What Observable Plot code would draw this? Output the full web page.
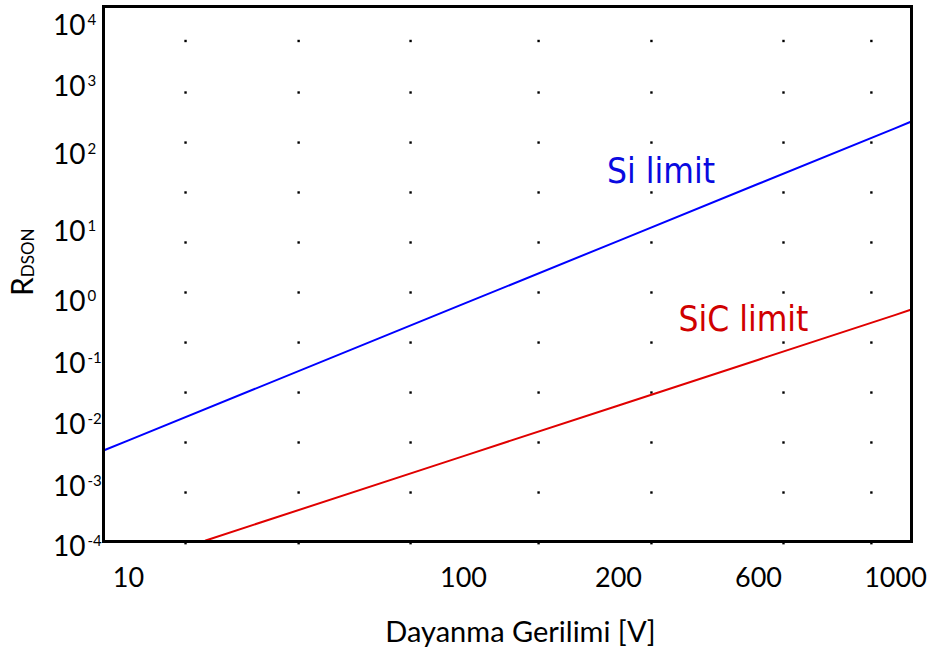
<!DOCTYPE html>
<html>
<head>
<meta charset="utf-8">
<script src="https://cdn.jsdelivr.net/npm/d3@7"></script>
<script src="https://cdn.jsdelivr.net/npm/@observablehq/plot@0.6"></script>
<style>
  body { margin: 0; background: #fff; }
  #chart svg { display: block; }
</style>
</head>
<body>
<div id="chart"></div>
<script>
// ---- data ----
const xTickValues = [10, 100, 200, 600, 1000];
const yTickValues = [1e-4, 1e-3, 1e-2, 1e-1, 1, 10, 100, 1000, 1e4];

const siVoltage = [8.42, 10, 100, 200, 600, 1000, 1061];
const siResistance = [0.00395, 0.00577, 0.949, 7.6, 42.9, 253, 316];

const sicVoltage = [17.0, 100, 200, 600, 1000, 1061];
const sicResistance = [0.000131, 0.00321, 0.0213, 0.1195, 0.631, 0.771];

const gridVoltage = [14.8, 32.2, 69.5, 139.9, 259, 658.6, 914];
const gridResistance = [5790, 844, 155, 33.1, 7.2, 1.39, 0.226, 0.0347, 0.00532, 0.000825, 0.000118];

const seriesNames = ["Si limit", "SiC limit"];
const labelVoltage = [190, 320];
const labelResistance = [62, 0.53];

const xTitle = "Dayanma Gerilimi [V]";
const yTitleMain = "R";
const yTitleSub = "DSON";

// ---- build tables ----
const siData = siVoltage.map((v, i) => ({v, r: siResistance[i]}));
const sicData = sicVoltage.map((v, i) => ({v, r: sicResistance[i]}));
const gridData = d3.cross(gridVoltage, gridResistance).map(([v, r]) => ({v, r}));
const labelData = seriesNames.map((name, i) => ({name, v: labelVoltage[i], r: labelResistance[i]}));

const colors = {"Si limit": "#0a0ae0", "SiC limit": "#d00000"};

const svg = Plot.plot({
  width: 939,
  height: 652,
  marginLeft: 103,
  marginRight: 28,
  marginTop: 6,
  marginBottom: 111,
  style: {fontFamily: "Lato, 'Open Sans', sans-serif", background: "#fff", overflow: "visible", color: "#000"},
  x: {type: "log", domain: xTickValues, range: [128, 463, 618, 758, 895], axis: null},
  y: {type: "log", domain: yTickValues, range: [547, 487, 425, 364, 302, 232, 155, 87, 26], axis: null},
  marks: [
    Plot.dot(gridData, {x: "v", y: "r", symbol: "square", r: 1.35, fill: "#000", stroke: "none"}),
    Plot.line(siData, {x: "v", y: "r", stroke: "#0000ff", strokeWidth: 2}),
    Plot.line(sicData, {x: "v", y: "r", stroke: "#e00000", strokeWidth: 2}),
    Plot.text(labelData, {
      x: "v", y: "r", text: "name", textAnchor: "start",
      fill: d => colors[d.name],
      fontSize: 35, fontFamily: "'DejaVu Sans Condensed', 'DejaVu Sans', sans-serif"
    }),
    Plot.frame({stroke: "#000", strokeWidth: 3}),
    // x tick labels
    Plot.text(xTickValues, {x: d => d, frameAnchor: "bottom", text: d => String(d),
      dy: 37, lineAnchor: "middle", fontSize: 27}),
    Plot.axisY({ticks: yTickValues, tickSize: 0, tickPadding: 18, fontSize: 28,
      tickFormat: d => "10^" + Math.round(Math.log10(d)), label: null}),
    Plot.text([xTitle], {frameAnchor: "bottom", text: d => d, dy: 91, dx: 13, lineAnchor: "middle", fontSize: 29}),
    Plot.text([yTitleMain + "|" + yTitleSub], {frameAnchor: "left", text: d => d, rotate: -90, dx: -80, dy: 22,
      lineAnchor: "middle", fontSize: 30})
  ]
});

document.getElementById("chart").appendChild(svg);

// superscript exponents for y tick labels
d3.select(svg).selectAll('g[aria-label="y-axis tick label"] text').each(function() {
  const t = d3.select(this);
  const s = t.text();
  const parts = s.split("^");
  if (parts.length !== 2) return;
  const x0 = +(t.attr("x") || 0);
  t.text(parts[0]);
  t.append("tspan")
    .attr("x", x0 + 2)
    .attr("dy", "-0.72em")
    .style("text-anchor", "start")
    .style("font-size", "15px")
    .text(parts[1]);
});

// subscript for the y title
d3.select(svg).selectAll("text").each(function() {
  const t = d3.select(this);
  const s = t.text();
  if (s.indexOf("|") < 0) return;
  const parts = s.split("|");
  t.text(parts[0]);
  t.append("tspan").attr("dy", "0.08em").style("font-size", "17px").text(parts[1]);
});
</script>
</body>
</html>
